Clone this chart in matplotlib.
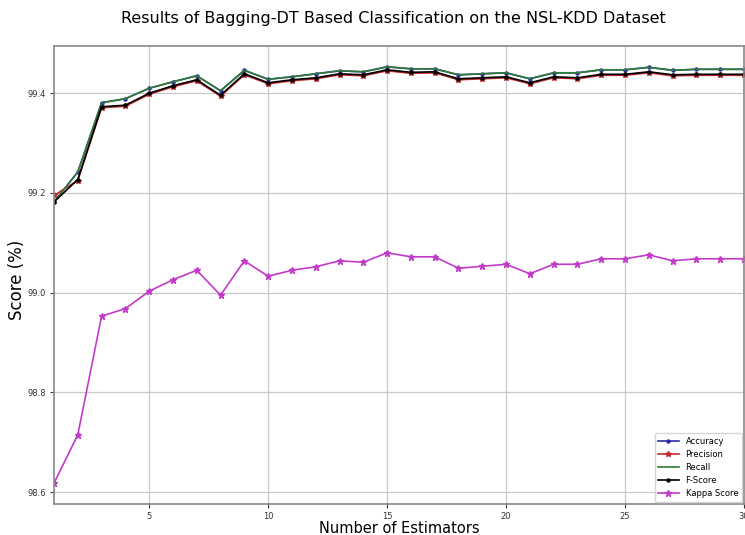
import numpy as np
from matplotlib import pyplot as plt

estimators = np.arange(1, 31)

accuracy = [99.182, 99.242, 99.381, 99.389, 99.410, 99.423, 99.435, 99.405, 99.446, 99.428,
            99.433, 99.439, 99.445, 99.443, 99.453, 99.449, 99.449, 99.437, 99.439, 99.441,
            99.429, 99.441, 99.441, 99.447, 99.447, 99.452, 99.446, 99.448, 99.448, 99.448]
recall = list(accuracy)
f_score = [99.182, 99.227, 99.373, 99.376, 99.400, 99.415, 99.427, 99.396, 99.439, 99.421,
           99.427, 99.431, 99.439, 99.437, 99.447, 99.442, 99.443, 99.429, 99.431, 99.433,
           99.421, 99.433, 99.431, 99.438, 99.438, 99.443, 99.437, 99.438, 99.438, 99.438]
precision = [99.195, 99.225, 99.371, 99.374, 99.398, 99.413, 99.425, 99.394, 99.437, 99.419,
             99.425, 99.429, 99.437, 99.435, 99.445, 99.440, 99.441, 99.427, 99.429, 99.431,
             99.419, 99.431, 99.429, 99.436, 99.436, 99.441, 99.435, 99.436, 99.436, 99.436]
kappa = [98.618, 98.715, 98.953, 98.968, 99.003, 99.026, 99.045, 98.995, 99.064, 99.033,
         99.045, 99.052, 99.064, 99.061, 99.080, 99.072, 99.072, 99.049, 99.053, 99.057,
         99.038, 99.057, 99.057, 99.068, 99.068, 99.076, 99.064, 99.068, 99.068, 99.068]

fig = plt.figure(figsize=(7.45, 5.35), dpi=100)
ax = fig.add_axes([54 / 745, 1 - 504 / 535, 690 / 745, 458 / 535])

ax.plot(estimators, accuracy, color="#2b2bb0", marker="o", markersize=2.2, lw=1.2, label="Accuracy")
ax.plot(estimators, precision, color="#c8282d", marker="*", markersize=4, lw=1.2, label="Precision")
ax.plot(estimators, recall, color="#2e7d32", lw=1.2, label="Recall")
ax.plot(estimators, f_score, color="black", marker="o", markersize=2.2, lw=1.2, label="F-Score")
ax.plot(estimators, kappa, color="#c23bc8", marker="*", markersize=4.5, lw=1.2, label="Kappa Score")

ax.set_xlim(1, 30)
ax.set_xticks([5, 10, 15, 20, 25, 30])
ax.set_yticks([98.6, 98.8, 99.0, 99.2, 99.4])
ax.set_yticklabels(["98.6", "98.8", "99.0", "99.2", "99.4"])
ax.grid(True, color="#c8c8c8", lw=0.9)
ax.set_axisbelow(True)
ax.tick_params(labelsize=6, colors="#333333", length=3, pad=2.5)
for s in ax.spines.values():
    s.set_color("#888888")
    s.set_linewidth(1.2)

ax.set_xlabel("Number of Estimators", fontsize=10.5, labelpad=0)
ax.set_ylabel("Score (%)", fontsize=12)
ax.yaxis.set_label_coords(-0.041, 0.49)
fig.text(393 / 745, 1 - 18 / 535, "Results of Bagging-DT Based Classification on the NSL-KDD Dataset",
         ha="center", va="center", fontsize=11.5)

ax.legend(loc="lower right", fontsize=6, borderaxespad=0.3, handlelength=2.5)

plt.savefig("out.png", dpi=100)
